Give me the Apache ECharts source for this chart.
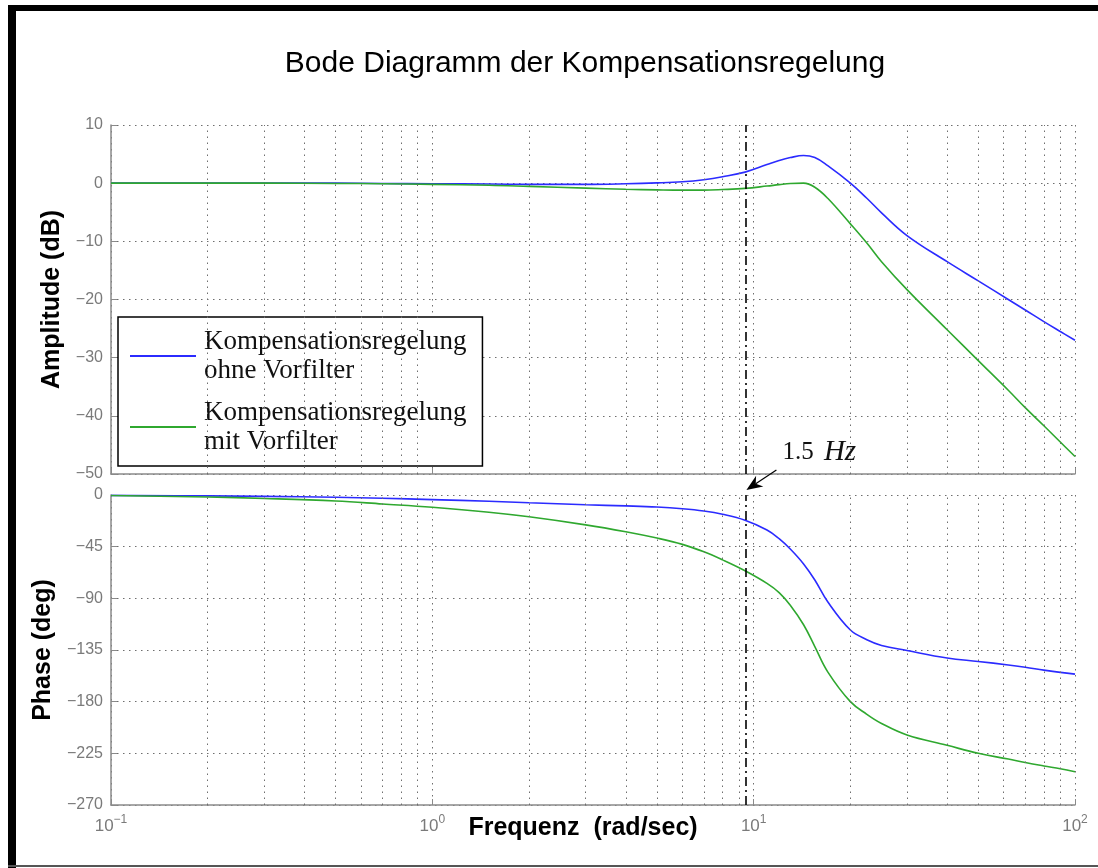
<!DOCTYPE html>
<html>
<head>
<meta charset="utf-8">
<title>Bode Diagramm der Kompensationsregelung</title>
<script src="https://cdn.jsdelivr.net/npm/echarts@6/dist/echarts.min.js"></script>
<style>
  html, body { margin: 0; padding: 0; background: #fff; }
  #chart { width: 1098px; height: 868px; }
</style>
</head>
<body>
<div id="chart"></div>
<script>
// Frequency samples (rad/sec)
const freq = [0.1, 0.2, 0.3, 0.5, 0.7, 1, 1.5, 2, 3, 4, 5, 6, 7, 8, 9.4, 11, 12, 13, 14.3, 15.5, 17, 20, 22.5, 25, 30, 40, 50, 62, 70, 80, 90, 100];

// Amplitude (dB)
const ampOhne = [0, 0, 0, 0, -0.05, -0.1, -0.15, -0.2, -0.2, -0.1, 0.05, 0.25, 0.6, 1.1, 1.9, 3.2, 3.9, 4.4, 4.75, 4.4, 3.0, 0, -2.6, -5.1, -9, -13.5, -16.8, -20, -21.8, -23.8, -25.5, -27];
const ampMit  = [0, 0, 0, -0.05, -0.1, -0.2, -0.35, -0.55, -0.85, -1.05, -1.15, -1.2, -1.2, -1.1, -0.9, -0.5, -0.25, -0.05, 0, -0.7, -2.6, -7, -10.3, -13.5, -18.3, -25.2, -30.5, -35.6, -38.6, -41.7, -44.5, -47];

// Phase (deg)
const phaseOhne = [-0.3, -0.8, -1.2, -2, -2.8, -4, -5.5, -6.8, -8.5, -9.5, -10.5, -12, -14, -16.8, -22, -30.5, -38, -47, -60, -74, -93, -117.6, -126, -131, -135.5, -142, -145, -148, -150, -152.5, -154.5, -156];
const phaseMit  = [-0.5, -1.8, -3, -5.2, -7.8, -10.7, -15, -19, -26, -32, -37.5, -43, -49.5, -56.5, -66, -77, -85, -96, -113, -132, -154, -180, -191, -199, -209, -218, -225, -230, -233, -236, -238.5, -241];

// Axis ranges and tick steps
const freqMin = 0.1, freqMax = 100;
const ampMin = -50, ampMax = 10, ampStep = 10;
const phaseMin = -270, phaseMax = 0, phaseStep = 45;

// Minor frequency grid (2..9 in each decade)
const minorFreqs = [0.2, 0.3, 0.4, 0.5, 0.6, 0.7, 0.8, 0.9, 2, 3, 4, 5, 6, 7, 8, 9, 20, 30, 40, 50, 60, 70, 80, 90];

// Marked frequency: 1.5 Hz
const markHz = 1.5;
const markRad = 2 * Math.PI * markHz;

const nameOhne = 'Kompensationsregelung\nohne Vorfilter';
const nameMit = 'Kompensationsregelung\nmit Vorfilter';

const blue = '#2b2bff';
const green = '#2fa82f';
const gridDot = '#6e6e6e';
const axisGrey = '#8a8a8a';
const labelGrey = '#7a7a7a';

const pairs = (ys) => freq.map((f, i) => [f, ys[i]]);
const minus = (v) => String(v).replace('-', '\u2212');

const supMap = { '-1': '\u22121', '0': '0', '1': '1', '2': '2' };

function xAxisCfg(gridIndex, showLabels) {
  return {
    type: 'log', logBase: 10, gridIndex: gridIndex,
    min: freqMin, max: freqMax,
    axisLine: { show: true, onZero: false, lineStyle: { color: axisGrey, width: 1.5 } },
    axisTick: { show: true, inside: true, length: 6, lineStyle: { color: axisGrey } },
    splitLine: { show: true, lineStyle: { color: gridDot, type: [1.5, 4.5], width: 1 } },
    axisLabel: {
      show: showLabels, margin: 9, color: labelGrey,
      formatter: (v) => '{b|10}{s|' + supMap[String(Math.round(Math.log10(v)))] + '}',
      rich: {
        b: { fontFamily: 'Liberation Sans', fontSize: 17, color: labelGrey },
        s: { fontFamily: 'Liberation Sans', fontSize: 12, color: labelGrey, padding: [0, 0, 12, 0] }
      }
    },
    name: showLabels ? 'Frequenz  (rad/sec)' : '',
    nameLocation: 'middle', nameGap: 11, nameMoveOverlap: false,
    nameTextStyle: { fontFamily: 'Liberation Sans', fontWeight: 'bold', fontSize: 25, color: '#000', padding: [0, 20, 0, 0] }
  };
}

function yAxisCfg(gridIndex, min, max, step, name) {
  return {
    type: 'value', gridIndex: gridIndex, min: min, max: max, interval: step,
    axisLine: { show: true, onZero: false, lineStyle: { color: axisGrey, width: 1.5 } },
    axisTick: { show: true, inside: true, length: 6, lineStyle: { color: axisGrey } },
    splitLine: { show: true, lineStyle: { color: gridDot, type: [1.5, 4.5], width: 1 } },
    axisLabel: { color: labelGrey, fontFamily: 'Liberation Sans', fontSize: 16, margin: 8, formatter: minus },
    name: name, nameLocation: 'middle', nameGap: 43,
    nameTextStyle: { fontFamily: 'Liberation Sans', fontWeight: 'bold', fontSize: 25, color: '#000' }
  };
}

// Helper series carrying the minor grid and the 1.5 Hz marker line
function guideSeries(gridIndex) {
  return {
    type: 'line', xAxisIndex: gridIndex, yAxisIndex: gridIndex, data: [], z: 1, silent: true,
    markLine: {
      silent: true, symbol: 'none', animation: false, label: { show: false },
      data: minorFreqs.map((f) => ({ xAxis: f, lineStyle: { color: gridDot, type: [1.5, 4.5], width: 1 } }))
        .concat([{ xAxis: markRad, lineStyle: { color: '#000', type: [9, 4, 2, 4], width: 1.6 } }])
    }
  };
}

function curve(name, color, gridIndex, values) {
  return {
    name: name, type: 'line', xAxisIndex: gridIndex, yAxisIndex: gridIndex,
    data: pairs(values), showSymbol: false, symbol: 'none',
    smooth: 0.4, z: 3,
    lineStyle: { color: color, width: 1.6 }, itemStyle: { color: color }
  };
}

const chart = echarts.init(document.getElementById('chart'), null, { renderer: 'canvas' });

chart.setOption({
  animation: false,
  backgroundColor: '#fff',
  title: {
    text: 'Bode Diagramm der Kompensationsregelung',
    left: 580, top: 44, textAlign: 'center',
    textStyle: { fontFamily: 'Liberation Sans', fontWeight: 'normal', fontSize: 30, color: '#000' }
  },
  grid: [
    { left: 111, top: 125, width: 964, height: 349 },
    { left: 111, top: 495, width: 964, height: 310 }
  ],
  xAxis: [xAxisCfg(0, false), xAxisCfg(1, true)],
  yAxis: [
    yAxisCfg(0, ampMin, ampMax, ampStep, 'Amplitude (dB)'),
    yAxisCfg(1, phaseMin, phaseMax, phaseStep, 'Phase (deg)')
  ],
  legend: {
    data: [nameOhne, nameMit],
    orient: 'vertical', left: 118, top: 317,
    padding: [10, 16, 10, 12], itemGap: 13,
    icon: 'path://M0,0L66,0L66,2L0,2Z',
    itemWidth: 66, itemHeight: 2,
    backgroundColor: '#fff', borderColor: '#000', borderWidth: 1.5, borderRadius: 0,
    selectedMode: false,
    textStyle: { fontFamily: 'Liberation Serif', fontSize: 27, lineHeight: 29, color: '#111', padding: [0, 0, 0, 3] }
  },
  series: [
    guideSeries(0),
    guideSeries(1),
    curve(nameOhne, blue, 0, ampOhne),
    curve(nameMit, green, 0, ampMit),
    curve(nameOhne, blue, 1, phaseOhne),
    curve(nameMit, green, 1, phaseMit)
  ]
});

// Annotation arrow pointing at the 1.5 Hz line, plus the page frame
const tip = chart.convertToPixel({ gridIndex: 1 }, [markRad, phaseMax]);
const tx = tip[0] + 1, ty = tip[1] - 5;
const tail = [tx + 30, ty - 20];
const ang = Math.atan2(tail[1] - ty, tail[0] - tx);
const hl = 16, hw = 6.5;
const ux = Math.cos(ang), uy = Math.sin(ang);
const baseX = tx + ux * hl, baseY = ty + uy * hl;
const notchX = tx + ux * hl * 0.7, notchY = ty + uy * hl * 0.7;

chart.setOption({
  graphic: [
    { type: 'rect', shape: { x: 8, y: 5, width: 8, height: 863 }, style: { fill: '#000' }, silent: true },
    { type: 'rect', shape: { x: 8, y: 5, width: 1090, height: 6 }, style: { fill: '#000' }, silent: true },
    { type: 'rect', shape: { x: 8, y: 865, width: 1090, height: 2 }, style: { fill: '#555' }, silent: true },
    { type: 'line', shape: { x1: tail[0], y1: tail[1], x2: notchX, y2: notchY }, style: { stroke: '#000', lineWidth: 1.2 }, z: 10, silent: true },
    {
      type: 'polygon', z: 10, silent: true,
      shape: { points: [[tx, ty], [baseX - uy * hw, baseY + ux * hw], [notchX, notchY], [baseX + uy * hw, baseY - ux * hw]] },
      style: { fill: '#000' }
    },
    {
      type: 'text', z: 10, silent: true,
      x: tx + 36, y: ty - 38,
      style: {
        text: '{n|1.5 }{i|Hz}',
        verticalAlign: 'middle',
        rich: {
          n: { fontFamily: 'Liberation Serif', fontSize: 25, fill: '#111' },
          i: { fontFamily: 'Liberation Serif', fontStyle: 'italic', fontSize: 29, fill: '#111', padding: [0, 0, 0, 4] }
        }
      }
    }
  ]
});
</script>
</body>
</html>
